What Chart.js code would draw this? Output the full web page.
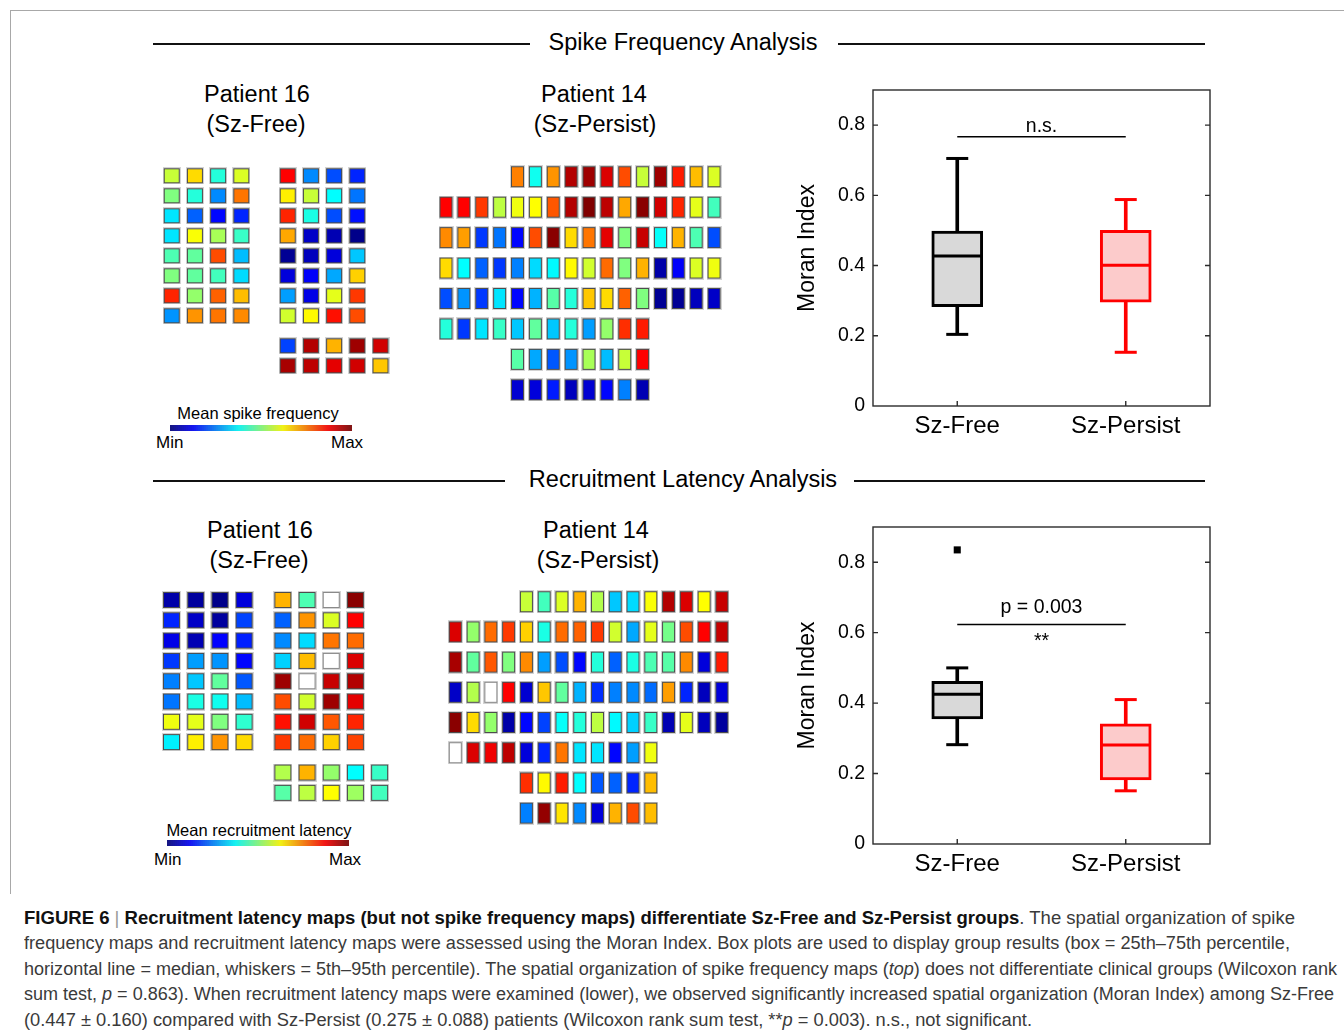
<!DOCTYPE html>
<html>
<head>
<meta charset="utf-8">
<script src="https://cdn.jsdelivr.net/npm/chart.js@4.4.1/dist/chart.umd.min.js"></script>
<style>
body{margin:0;background:#fff;width:1344px;height:1035px;position:relative;overflow:hidden;font-family:"Liberation Sans",Arial,sans-serif;color:#000}
.abs{position:absolute}
.frame{left:10px;top:10px;width:1340px;height:883px;border-top:1.5px solid #a8a8a8;border-left:1.5px solid #a8a8a8}
.hline{height:2px;background:#111}
.t{position:absolute;white-space:nowrap;line-height:1;transform:translateX(-50%)}
.wrap{position:absolute}
.wrap canvas{display:block}
.cap{position:absolute;left:24px;white-space:nowrap;font-family:"Liberation Sans Narrow","Liberation Sans",sans-serif;font-size:18px;line-height:25.4px;color:#3a3a3a;transform-origin:0 0}
.cap b{color:#111}
</style>
</head>
<body>
<div class="abs frame"></div>

<!-- section titles -->
<div class="abs hline" style="left:153px;top:43px;width:377px"></div>
<div class="abs hline" style="left:838px;top:43px;width:367px"></div>
<div class="t" style="left:683px;top:31px;font-size:23.5px">Spike Frequency Analysis</div>
<div class="abs hline" style="left:153px;top:480px;width:352px"></div>
<div class="abs hline" style="left:854px;top:480px;width:351px"></div>
<div class="t" style="left:683px;top:468px;font-size:23.5px">Recruitment Latency Analysis</div>

<div class="t" style="left:257px;top:83px;font-size:23.5px">Patient 16</div>
<div class="t" style="left:256px;top:113px;font-size:23.5px">(Sz-Free)</div>
<div class="t" style="left:594px;top:83px;font-size:23.5px">Patient 14</div>
<div class="t" style="left:595px;top:113px;font-size:23.5px">(Sz-Persist)</div>
<div class="t" style="left:260px;top:519px;font-size:23.5px">Patient 16</div>
<div class="t" style="left:259px;top:549px;font-size:23.5px">(Sz-Free)</div>
<div class="t" style="left:596px;top:519px;font-size:23.5px">Patient 14</div>
<div class="t" style="left:598px;top:549px;font-size:23.5px">(Sz-Persist)</div>

<!-- grids -->
<div class="wrap" id="w1"><canvas id="gridSF16"></canvas></div>
<div class="wrap" id="w2"><canvas id="gridSF14"></canvas></div>
<div class="wrap" id="w3"><canvas id="gridRL16"></canvas></div>
<div class="wrap" id="w4"><canvas id="gridRL14"></canvas></div>

<!-- colour bars -->
<div class="t" style="left:258px;top:405px;font-size:16.5px">Mean spike frequency</div>
<div class="wrap" style="left:170px;top:425px;width:182px;height:6px"><canvas id="barSF"></canvas></div>
<div class="abs" style="left:156px;top:434px;font-size:17px;line-height:1">Min</div>
<div class="abs" style="left:331px;top:434px;font-size:17px;line-height:1">Max</div>
<div class="t" style="left:259px;top:822px;font-size:16.5px">Mean recruitment latency</div>
<div class="wrap" style="left:167px;top:840px;width:182px;height:6px"><canvas id="barRL"></canvas></div>
<div class="abs" style="left:154px;top:851px;font-size:17px;line-height:1">Min</div>
<div class="abs" style="left:329px;top:851px;font-size:17px;line-height:1">Max</div>

<!-- box plots -->
<div class="wrap" style="left:790px;top:80px;width:430px;height:366px"><canvas id="boxSF"></canvas></div>
<div class="wrap" style="left:790px;top:518px;width:430px;height:366px"><canvas id="boxRL"></canvas></div>

<!-- caption -->
<div class="cap" style="top:906px"><b>FIGURE 6</b> <span style="color:#999">|</span> <b>Recruitment latency maps (but not spike frequency maps) differentiate Sz-Free and Sz-Persist groups</b>. The spatial organization of spike</div>
<div class="cap" style="top:931.4px">frequency maps and recruitment latency maps were assessed using the Moran Index. Box plots are used to display group results (box = 25th–75th percentile,</div>
<div class="cap" style="top:956.8px">horizontal line = median, whiskers = 5th–95th percentile). The spatial organization of spike frequency maps (<i>top</i>) does not differentiate clinical groups (Wilcoxon rank</div>
<div class="cap" style="top:982.2px">sum test, <i>p</i> = 0.863). When recruitment latency maps were examined (lower), we observed significantly increased spatial organization (Moran Index) among Sz-Free</div>
<div class="cap" style="top:1007.6px">(0.447 ± 0.160) compared with Sz-Persist (0.275 ± 0.088) patients (Wilcoxon rank sum test, **<i>p</i> = 0.003). n.s., not significant.</div>

<script>
// ******** data: normalised map values (0 = min, 1 = max, null = no data) ********
// spike frequency, patient 16 (Sz-Free): two 8x4 strips + 2x5 strip
const sfP16A=[
  [0.57,0.66,0.41,0.59],
  [0.50,0.41,0.26,0.76],
  [0.35,0.22,0.13,0.16],
  [0.35,0.62,0.54,0.43],
  [0.45,0.47,0.80,0.31],
  [0.50,0.47,0.44,0.34],
  [0.84,0.52,0.78,0.69],
  [0.27,0.73,0.76,0.74]
];
const sfP16B=[
  [0.875,0.26,0.20,0.16],
  [0.64,0.57,0.375,0.24],
  [0.84,0.40,0.20,0.14],
  [0.71,0.07,0.05,0.01],
  [0.02,0.06,0.09,0.32],
  [0.09,0.12,0.29,0.67],
  [0.28,0.10,0.60,0.82],
  [0.58,0.63,0.86,0.80]
];
const sfP16C=[
  [0.19,0.95,0.70,0.97,0.92],
  [0.96,0.94,0.90,0.92,0.68]
];
// spike frequency, patient 14 (Sz-Persist)
const sfP14=[
  [0.75,0.39,0.73,0.95,0.97,0.91,0.80,0.57,0.97,0.85,0.69,0.59],
  [0.875,0.875,0.82,0.56,0.61,0.625,0.79,0.95,1.0,0.94,0.71,0.99,0.92,0.84,0.60,0.44],
  [0.74,0.72,0.18,0.24,0.13,0.80,0.99,0.66,0.76,0.90,0.50,0.93,0.38,0.70,0.45,0.20],
  [0.66,0.375,0.22,0.18,0.25,0.34,0.37,0.63,0.58,0.77,0.50,0.70,0.04,0.12,0.59,0.61],
  [0.20,0.27,0.18,0.35,0.13,0.30,0.46,0.41,0.68,0.66,0.78,0.50,0.02,0.02,0.06,0.07],
  [0.41,0.18,0.35,0.43,0.32,0.47,0.32,0.41,0.28,0.52,0.83,0.85],
  [0.46,0.29,0.21,0.27,0.54,0.31,0.57,0.875],
  [0.08,0.09,0.15,0.06,0.08,0.13,0.25,0.05]
];
// recruitment latency, patient 16 (Sz-Free)
const rlP16A=[
  [0.04,0.03,0.01,0.09],
  [0.16,0.07,0.03,0.19],
  [0.10,0.05,0.125,0.155],
  [0.18,0.28,0.27,0.13],
  [0.25,0.32,0.47,0.21],
  [0.24,0.40,0.39,0.31],
  [0.61,0.60,0.50,0.42],
  [0.36,0.64,0.73,0.66]
];
const rlP16B=[
  [0.70,0.45,null,0.99],
  [0.22,0.73,0.59,0.875],
  [0.26,0.34,0.76,0.77],
  [0.33,0.69,null,0.91],
  [0.97,null,0.93,0.95],
  [0.80,0.58,0.97,0.90],
  [0.86,0.92,0.79,0.84],
  [0.82,0.77,0.67,0.81]
];
const rlP16C=[
  [0.55,0.70,0.52,0.375,0.43],
  [0.46,0.56,0.625,0.53,0.44]
];
// recruitment latency, patient 14 (Sz-Persist)
const rlP14=[
  [0.57,0.44,0.59,0.70,0.55,0.32,0.34,0.62,0.95,0.91,0.625,0.93],
  [0.91,0.52,0.77,0.82,0.67,0.40,0.77,0.78,0.82,0.58,0.29,0.60,0.49,0.80,0.875,0.93],
  [0.96,0.47,0.79,0.50,0.74,0.28,0.20,0.13,0.41,0.22,0.40,0.45,0.46,0.74,0.09,0.85],
  [0.07,0.55,null,0.875,0.08,0.68,0.47,0.30,0.17,0.25,0.26,0.23,0.72,0.16,0.06,0.09],
  [0.99,0.66,0.52,0.04,0.13,0.19,0.38,0.41,0.56,0.37,0.33,0.43,0.05,0.60,0.06,0.03],
  [null,0.91,0.89,0.94,0.09,0.16,0.76,0.35,0.35,0.13,0.28,0.61],
  [0.83,0.63,0.85,0.375,0.21,0.22,0.16,0.69],
  [0.25,0.98,0.65,0.26,0.09,0.70,0.80,0.69]
];
// first electrode column of each P14 row
const p14RowStart=[4,0,0,0,0,0,4,4];

// ******** data: box plots (Moran Index) ********
const groups=['Sz-Free','Sz-Persist'];
const sfLow=[0.204,0.153], sfQ1=[0.283,0.296], sfMed=[0.427,0.401], sfQ3=[0.498,0.500], sfHigh=[0.705,0.588];
const rlLow=[0.282,0.151], rlQ1=[0.355,0.182], rlMed=[0.425,0.281], rlQ3=[0.462,0.341], rlHigh=[0.500,0.410];
const rlOutlier=[{x:'Sz-Free',y:0.835}];
const yTicks=[0,0.2,0.4,0.6,0.8];

// ********jet colormap******
function jet(v){
  const c=x=>Math.round(255*Math.max(0,Math.min(1,x)));
  const r=c(1.5-Math.abs(4*v-3)), g=c(1.5-Math.abs(4*v-2)), b=c(1.5-Math.abs(4*v-1));
  return `rgb(${r},${g},${b})`;
}
function jetMuted(v){
  const c=x=>Math.round(0.86*255*Math.max(0,Math.min(1,x))+22);
  return `rgb(${c(1.5-Math.abs(4*v-3))},${c(1.5-Math.abs(4*v-2))},${c(1.5-Math.abs(4*v-1))})`;
}

// ********electrode cell images******
const cellCache={};
function cellImage(v,w,h){
  const key=v+'_'+w+'_'+h;
  if(cellCache[key])return cellCache[key];
  const c=document.createElement('canvas');
  c.width=w+2;c.height=h+2;
  const g=c.getContext('2d');
  g.fillStyle='rgba(130,130,130,0.35)';g.fillRect(0,0,w+2,h+2);
  g.fillStyle=v===null?'#8a8a8a':'#4d4d4d';g.fillRect(1,1,w,h);
  g.fillStyle=v===null?'#ffffff':jet(v);g.fillRect(2,2,w-2,h-2);
  cellCache[key]=c;
  return c;
}
function blockPoints(values,col0,row0,starts){
  const pts=[];
  values.forEach((row,i)=>row.forEach((v,j)=>{
    pts.push({x:col0+(starts?starts[i]:0)+j,y:row0+i,v:v});
  }));
  return pts;
}

// ********grid chart******
function gridChart(id,wrapId,box,points,cellW,cellH){
  const w=document.getElementById(wrapId);
  Object.assign(w.style,{left:box.left+'px',top:box.top+'px',width:box.width+'px',height:box.height+'px'});
  const xmin=-(box.x0-box.left)/box.dx, ymin=-(box.y0-box.top)/box.dy;
  new Chart(document.getElementById(id),{
    type:'scatter',
    data:{datasets:[{
      data:points,
      pointRadius:5,
      pointStyle:ctx=>cellImage(ctx.raw.v,cellW,cellH),
      clip:false
    }]},
    options:{
      responsive:true,maintainAspectRatio:false,animation:false,events:[],
      layout:{padding:0,autoPadding:false},
      plugins:{legend:{display:false},tooltip:{enabled:false}},
      scales:{
        x:{type:'linear',display:false,min:xmin,max:xmin+box.width/box.dx},
        y:{type:'linear',display:false,reverse:true,min:ymin,max:ymin+box.height/box.dy}
      }
    }
  });
}

gridChart('gridSF16','w1',{left:158,top:163,width:240,height:215,x0:171.7,y0:175.8,dx:23.2,dy:20},
  [...blockPoints(sfP16A,0,0),...blockPoints(sfP16B,5,0),...blockPoints(sfP16C,5,8.5)],16,15);
gridChart('gridSF14','w2',{left:435,top:160,width:292,height:245,x0:446,y0:176.7,dx:17.87,dy:30.44},
  blockPoints(sfP14,0,0,p14RowStart),13,21);
gridChart('gridRL16','w3',{left:158,top:588,width:240,height:218,x0:171.5,y0:600,dx:24.2,dy:20.3},
  [...blockPoints(rlP16A,0,0),...blockPoints(rlP16B,4.6,0),...blockPoints(rlP16C,4.6,8.5)],17,16);
gridChart('gridRL14','w4',{left:444,top:585,width:292,height:245,x0:455.3,y0:601.7,dx:17.77,dy:30.2},
  blockPoints(rlP14,0,0,p14RowStart),13,21);

// ********colour bars******
function colourBar(id){
  const n=91;
  const steps=Array.from({length:n},(_,i)=>i);
  new Chart(document.getElementById(id),{
    type:'bar',
    data:{labels:steps,datasets:[{data:steps.map(()=>1),backgroundColor:steps.map(i=>jetMuted(i/(n-1))),
      barPercentage:1,categoryPercentage:1,borderWidth:0}]},
    options:{responsive:true,maintainAspectRatio:false,animation:false,events:[],
      layout:{autoPadding:false},
      plugins:{legend:{display:false},tooltip:{enabled:false}},
      scales:{x:{display:false},y:{display:false,min:0,max:1}}}
  });
}
colourBar('barSF');
colourBar('barRL');

// ********box plots******
const framePlugin={
  id:'notes',
  afterDraw(chart,args,opts){
    const {ctx,chartArea:a,scales:{x,y}}=chart;
    ctx.save();
    ctx.strokeStyle='#2b2b2b';ctx.lineWidth=1.4;
    ctx.strokeRect(a.left,a.top,a.right-a.left,a.bottom-a.top);
    ctx.beginPath();
    yTicks.slice(1).forEach(v=>{
      const py=y.getPixelForValue(v);
      ctx.moveTo(a.left,py);ctx.lineTo(a.left+5,py);
      ctx.moveTo(a.right,py);ctx.lineTo(a.right-5,py);
    });
    groups.forEach((g,i)=>{
      const px=x.getPixelForValue(i);
      ctx.moveTo(px,a.bottom);ctx.lineTo(px,a.bottom-5);
    });
    ctx.stroke();
    ctx.fillStyle='#000';ctx.textAlign='center';ctx.textBaseline='middle';
    ctx.font='19.5px "Liberation Sans", Arial, sans-serif';
    (opts.items||[]).forEach(n=>{
      ctx.fillText(n.text,(x.getPixelForValue(0)+x.getPixelForValue(1))/2,y.getPixelForValue(n.y));
    });
    ctx.restore();
  }
};

function boxChart(id,low,q1,med,q3,high,outliers,sigY,notes){
  const edge=['#000000','#ff0000'];
  const fill=['#d9d9d9','#fccbcb'];
  const datasets=[
    {type:'bar',data:groups.map((g,i)=>[q3[i],high[i]]),backgroundColor:edge,barThickness:3,grouped:false,borderWidth:0,order:3},
    {type:'bar',data:groups.map((g,i)=>[low[i],q1[i]]),backgroundColor:edge,barThickness:3,grouped:false,borderWidth:0,order:3},
    {type:'bar',data:groups.map((g,i)=>[q1[i],q3[i]]),backgroundColor:fill,borderColor:edge,borderWidth:3,
      borderSkipped:false,barThickness:51,grouped:false,order:2},
    {type:'line',showLine:false,order:1,pointStyle:'line',pointRadius:11,pointBorderWidth:3,
      data:groups.flatMap((g,i)=>[{x:g,y:high[i]},{x:g,y:low[i]}]),
      pointBorderColor:[edge[0],edge[0],edge[1],edge[1]]},
    {type:'line',showLine:false,order:1,pointStyle:'line',pointRadius:24,pointBorderWidth:3,
      data:groups.map((g,i)=>({x:g,y:med[i]})),pointBorderColor:edge},
    {type:'line',order:1,borderColor:'#000',borderWidth:1.5,pointRadius:0,
      data:groups.map(g=>({x:g,y:sigY}))}
  ];
  if(outliers.length){
    datasets.push({type:'line',showLine:false,order:0,pointStyle:'rect',pointRadius:5,
      pointBackgroundColor:'#000',pointBorderWidth:0,data:outliers});
  }
  new Chart(document.getElementById(id),{
    type:'bar',
    data:{labels:groups,datasets},
    options:{
      responsive:true,maintainAspectRatio:false,animation:false,events:[],
      layout:{padding:{top:id==='boxSF'?10:9,right:10,left:0,bottom:0},autoPadding:false},
      plugins:{legend:{display:false},tooltip:{enabled:false},notes:{items:notes}},
      scales:{
        x:{grid:{display:false,drawTicks:false},border:{display:false},
          ticks:{color:'#000',font:{size:24,family:'"Liberation Sans", Arial, sans-serif'},padding:6,maxRotation:0},
          afterFit:s=>{s.height=40;s.paddingLeft=0;s.paddingRight=0;}},
        y:{min:0,max:0.9,grid:{display:false,drawTicks:false},border:{display:false},
          afterBuildTicks:s=>{s.ticks=yTicks.map(v=>({value:v}));},
          ticks:{color:'#000',font:{size:19.5,family:'"Liberation Sans", Arial, sans-serif'},padding:8,
            callback:v=>v===0?'0':v.toFixed(1)},
          title:{display:true,text:'Moran Index',color:'#000',font:{size:23,family:'"Liberation Sans", Arial, sans-serif'}},
          afterFit:s=>{s.width=83;s.paddingTop=0;s.paddingBottom=0;}}
      }
    },
    plugins:[framePlugin]
  });
}
boxChart('boxSF',sfLow,sfQ1,sfMed,sfQ3,sfHigh,[],0.767,[{text:'n.s.',y:0.795}]);
boxChart('boxRL',rlLow,rlQ1,rlMed,rlQ3,rlHigh,rlOutlier,0.623,[{text:'p = 0.003',y:0.671},{text:'**',y:0.575}]);

// ********fit caption lines to the printed widths******
const capWidths=[1271,1266,1313,1310,1008];
document.querySelectorAll('.cap').forEach((el,i)=>{
  const w=el.getBoundingClientRect().width;
  el.style.transform=`scaleX(${capWidths[i]/w})`;
});
</script>
</body>
</html>
